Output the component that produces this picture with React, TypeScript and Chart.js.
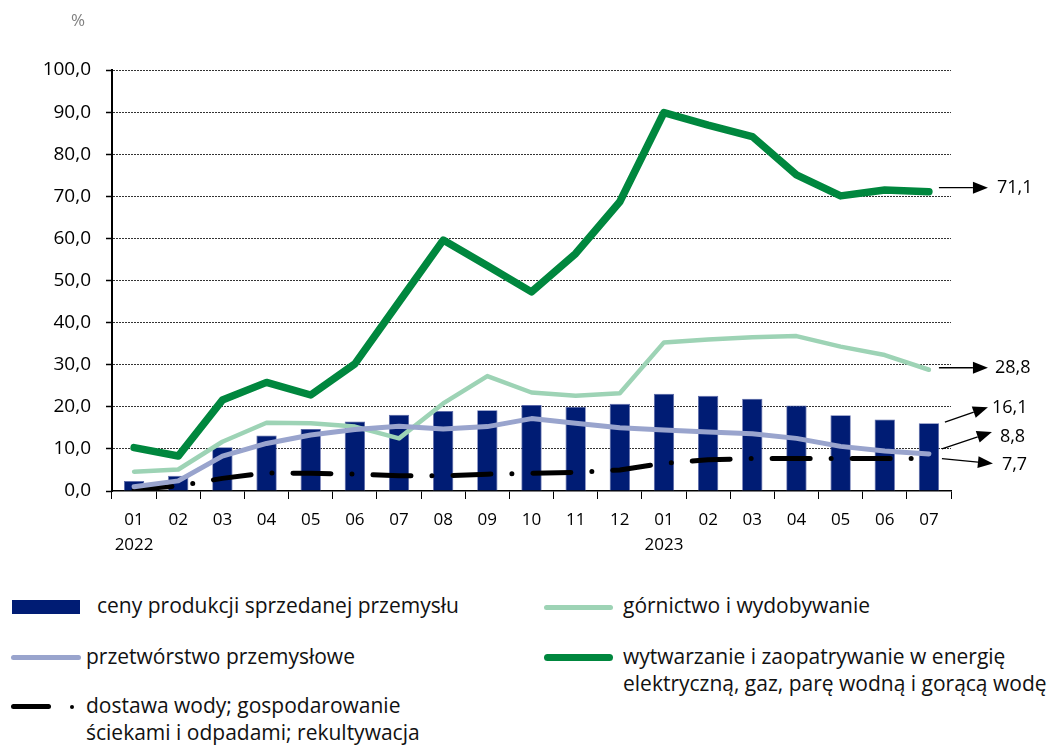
import React, { useEffect, useRef } from "react";
import { Chart, registerables } from "chart.js";

Chart.register(...registerables);

const months = ["01", "02", "03", "04", "05", "06", "07", "08", "09", "10", "11", "12", "01", "02", "03", "04", "05", "06", "07"];
const years: Record<number, string> = { 0: "2022", 12: "2023" };
const yTicks = [0, 10, 20, 30, 40, 50, 60, 70, 80, 90, 100];

const cenyProdukcji = [2.4, 3.6, 10.4, 13.2, 14.7, 16.5, 18.1, 19.0, 19.2, 20.4, 20.0, 20.7, 23.1, 22.6, 21.9, 20.3, 18.0, 17.0, 16.1];
const przetworstwo = [1.0, 2.4, 8.3, 11.3, 13.3, 14.6, 15.4, 14.7, 15.3, 17.2, 16.1, 15.0, 14.5, 14.0, 13.6, 12.5, 10.6, 9.5, 8.8];
const gornictwo = [4.6, 5.1, 11.7, 16.2, 16.1, 15.3, 12.5, 20.8, 27.3, 23.4, 22.6, 23.2, 35.3, 36.0, 36.5, 36.8, 34.3, 32.3, 28.8];
const wytwarzanie = [10.3, 8.3, 21.6, 25.8, 22.8, 30.2, 44.9, 59.6, 53.5, 47.3, 56.4, 68.7, 89.9, 86.9, 84.2, 75.1, 70.1, 71.5, 71.1];
const dostawaWody = [0.4, 1.2, 3.0, 4.3, 4.2, 4.0, 3.6, 3.6, 4.0, 4.2, 4.4, 5.0, 6.6, 7.4, 7.7, 7.7, 7.7, 7.7, 7.7];

const endLabels = [
  { value: 71.1, text: "71,1", sx: 10, sy: -4, ex: 59, ey: -4, tx: 68, ty: -4 },
  { value: 28.8, text: "28,8", sx: 10, sy: -2, ex: 59, ey: -2, tx: 66, ty: -2 },
  { value: 16.1, text: "16,1", sx: 16, sy: -1, ex: 59, ey: -16, tx: 63, ty: -15 },
  { value: 8.8, text: "8,8", sx: 13, sy: -5, ex: 63, ey: -22, tx: 71, ty: -17 },
  { value: 7.7, text: "7,7", sx: 13, sy: 0, ex: 64, ey: 5, tx: 73, ty: 6 },
];

const FONT = "'Open Sans', 'DejaVu Sans', sans-serif";
const LEGEND_FONT = "'Open Sans', 'Noto Sans', sans-serif";

const C_BAR = "#001c74";
const C_PRZ = "#99a4cd";
const C_GOR = "#9dd3b5";
const C_WYT = "#00873e";
const C_WOD = "#000000";

const endLabelPlugin = {
  id: "endLabels",
  afterDatasetsDraw(chart: any) {
    const ctx = chart.ctx;
    const xs = chart.scales.x;
    const ys = chart.scales.y;
    const xL = xs.getPixelForValue(months.length - 1);
    ctx.save();
    ctx.strokeStyle = "#000";
    ctx.fillStyle = "#000";
    ctx.lineWidth = 1.3;
    ctx.font = `18px ${FONT}`;
    ctx.textBaseline = "middle";
    ctx.textAlign = "left";
    for (const l of endLabels) {
      const yv = ys.getPixelForValue(l.value);
      const x1 = xL + l.sx, y1 = yv + l.sy;
      const x2 = xL + l.ex, y2 = yv + l.ey;
      const ang = Math.atan2(y2 - y1, x2 - x1);
      const len = 15, hw = 6;
      const bx = x2 - len * Math.cos(ang), by = y2 - len * Math.sin(ang);
      ctx.beginPath();
      ctx.moveTo(x1, y1);
      ctx.lineTo(bx, by);
      ctx.stroke();
      ctx.beginPath();
      ctx.moveTo(x2, y2);
      ctx.lineTo(bx + hw * Math.sin(ang), by - hw * Math.cos(ang));
      ctx.lineTo(bx - hw * Math.sin(ang), by + hw * Math.cos(ang));
      ctx.closePath();
      ctx.fill();
      ctx.fillText(l.text, xL + l.tx, yv + l.ty);
    }
    ctx.restore();
  },
};

function ChartCanvas() {
  const ref = useRef<HTMLCanvasElement | null>(null);
  useEffect(() => {
    if (!ref.current) return;
    const labels = months.map((m, i) => (years[i] ? [m, years[i]] : m));
    const chart = new Chart(ref.current, {
      type: "bar",
      data: {
        labels,
        datasets: [
          {
            type: "line",
            label: "wytwarzanie",
            data: wytwarzanie,
            borderColor: C_WYT,
            borderWidth: 7.5,
            pointRadius: 0,
            tension: 0,
            borderJoinStyle: "round",
            borderCapStyle: "round",
            order: 1,
          } as any,
          {
            type: "line",
            label: "górnictwo",
            data: gornictwo,
            borderColor: C_GOR,
            borderWidth: 4.5,
            pointRadius: 0,
            tension: 0,
            borderJoinStyle: "round",
            borderCapStyle: "round",
            order: 3,
          } as any,
          {
            type: "line",
            label: "przetwórstwo",
            data: przetworstwo,
            borderColor: C_PRZ,
            borderWidth: 5,
            pointRadius: 0,
            tension: 0,
            borderJoinStyle: "round",
            borderCapStyle: "round",
            order: 2,
          } as any,
          {
            type: "line",
            label: "dostawa wody",
            data: dostawaWody,
            borderColor: C_WOD,
            borderWidth: 5,
            pointRadius: 0,
            tension: 0,
            borderDash: [38, 21, 0, 21],
            borderCapStyle: "round",
            borderJoinStyle: "round",
            order: 4,
          } as any,
          {
            type: "bar",
            label: "ceny produkcji",
            data: cenyProdukcji,
            backgroundColor: C_BAR,
            borderColor: "#5a67a8",
            borderWidth: 0.8,
            categoryPercentage: 1,
            barPercentage: 0.46,
            order: 10,
          } as any,
        ],
      },
      options: {
        animation: false,
        responsive: false,
        maintainAspectRatio: false,
        layout: { padding: { left: 0, right: 113, top: 70, bottom: 0 } },
        plugins: { legend: { display: false }, tooltip: { enabled: false } },
        scales: {
          x: {
            offset: true,
            grid: {
              display: true,
              drawOnChartArea: false,
              drawTicks: true,
              tickLength: 8,
              offset: true,
              color: "#000",
              tickColor: "#000",
              tickWidth: 1,
            },
            border: { display: true, color: "#000", width: 1.5 },
            ticks: {
              color: "#000",
              font: { family: FONT, size: 17, lineHeight: 1.45 },
              padding: 9,
              maxRotation: 0,
              autoSkip: false,
            },
            afterFit: (s: any) => {
              s.height = 69;
            },
          },
          y: {
            min: 0,
            max: 100,
            afterBuildTicks: (s: any) => {
              s.ticks = yTicks.map((v) => ({ value: v }));
            },
            grid: {
              color: (c: any) => (c.tick && c.tick.value === 0 ? "rgba(0,0,0,0)" : "#333"),
              lineWidth: 1,
              drawTicks: true,
              tickLength: 6,
              tickColor: "#000",
              tickWidth: 1.5,
              tickBorderDash: [],
            },
            border: { display: true, color: "#000", width: 2, dash: [2, 1] },
            ticks: {
              color: "#000",
              font: { family: FONT, size: 19 },
              padding: 15,
              callback: (v: any) => Number(v).toFixed(1).replace(".", ","),
            },
            afterFit: (s: any) => {
              s.width = 112;
            },
          },
        },
      },
      plugins: [endLabelPlugin],
    } as any);
    return () => chart.destroy();
  }, []);
  return <canvas ref={ref} width={1064} height={560} style={{ position: "absolute", left: 0, top: 0, width: 1064, height: 560 }} />;
}

const legendText: React.CSSProperties = {
  position: "absolute",
  fontFamily: LEGEND_FONT,
  fontSize: 21,
  lineHeight: "27px",
  color: "#111",
  whiteSpace: "nowrap",
};

export default function App() {
  useEffect(() => {
    document.body.style.margin = "0";
  }, []);
  return (
    <div style={{ position: "relative", width: 1064, height: 745, background: "#fff", overflow: "hidden" }}>
      <ChartCanvas />
      <div style={{ position: "absolute", left: 71, top: 8, fontFamily: FONT, fontSize: 17, color: "#808080" }}>%</div>

      <div style={{ position: "absolute", left: 12, top: 600, width: 68, height: 14, background: C_BAR }} />
      <div style={{ ...legendText, left: 97, top: 592 }}>ceny produkcji sprzedanej przemysłu</div>

      <div style={{ position: "absolute", left: 11, top: 655, width: 70, height: 5, borderRadius: 3, background: C_PRZ }} />
      <div style={{ ...legendText, left: 86, top: 643 }}>przetwórstwo przemysłowe</div>

      <div style={{ position: "absolute", left: 11, top: 704, width: 40, height: 5, borderRadius: 3, background: C_WOD }} />
      <div style={{ position: "absolute", left: 70, top: 705, width: 4, height: 4, borderRadius: 2, background: C_WOD }} />
      <div style={{ ...legendText, left: 86, top: 692 }}>
        dostawa wody; gospodarowanie
        <br />
        ściekami i odpadami; rekultywacja
      </div>

      <div style={{ position: "absolute", left: 544, top: 605, width: 69, height: 5, borderRadius: 3, background: C_GOR }} />
      <div style={{ ...legendText, left: 623, top: 592 }}>górnictwo i wydobywanie</div>

      <div style={{ position: "absolute", left: 544, top: 654, width: 69, height: 7, borderRadius: 4, background: C_WYT }} />
      <div style={{ ...legendText, left: 623, top: 643 }}>
        wytwarzanie i zaopatrywanie w energię
        <br />
        elektryczną, gaz, parę wodną i gorącą wodę
      </div>
    </div>
  );
}
